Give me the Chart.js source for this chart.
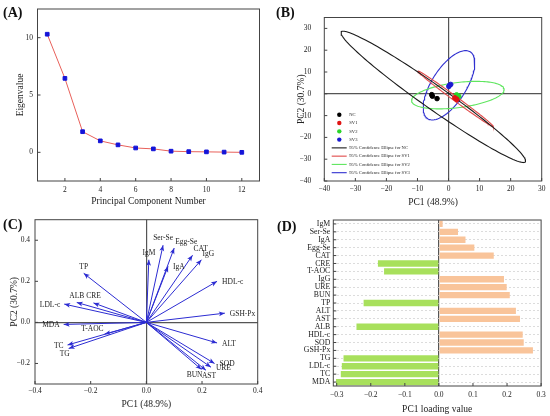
<!DOCTYPE html>
<html>
<head>
<meta charset="utf-8">
<script src="https://cdn.jsdelivr.net/npm/chart.js@4.4.1/dist/chart.umd.min.js"></script>
<style>
  body { margin: 0; background: #fff; width: 550px; height: 416px; position: relative; overflow: hidden; }
  .cell { position: absolute; width: 275px; height: 208px; }
  .tag { position: absolute; font-family: "Liberation Serif", serif; font-weight: bold; font-size: 14px; line-height: 14px; color: #111; }
</style>
</head>
<body>
<div class="cell" style="left:0;top:0"><canvas id="chartA" width="275" height="208"></canvas></div>
<div class="cell" style="left:275px;top:0"><canvas id="chartB" width="275" height="208"></canvas></div>
<div class="cell" style="left:0;top:208px"><canvas id="chartC" width="275" height="208"></canvas></div>
<div class="cell" style="left:275px;top:208px"><canvas id="chartD" width="275" height="208"></canvas></div>
<div class="tag" style="left:3px;top:6px">(A)</div>
<div class="tag" style="left:276px;top:6px">(B)</div>
<div class="tag" style="left:3px;top:218px">(C)</div>
<div class="tag" style="left:277px;top:220px">(D)</div>
<script>
// (A) scree plot
const componentNo = [1, 2, 3, 4, 5, 6, 7, 8, 9, 10, 11, 12];
const eigenValues = [10.3, 6.45, 1.8, 1.0, 0.65, 0.38, 0.3, 0.1, 0.06, 0.04, 0.02, 0.0];
const screeXTicks = [2, 4, 6, 8, 10, 12];
const screeYTicks = [0, 5, 10];

// (B) PCA scores, 3 samples per group
const groups = ["NC", "SV1", "SV2", "SV3"];
const scoreX = [[-5.4, -5.2, -3.7], [2.0, 2.4, 2.7], [2.6, 3.0, 3.3], [0.1, 0.3, 0.7]];
const scoreY = [[-0.4, -1.1, -2.2], [-1.8, -2.3, -2.6], [-0.5, -0.9, -1.2], [3.4, 3.9, 4.3]];
// 95% confidence ellipses: centre and two conjugate half axes
const ellCx = [-4.9, 2.25, 3.0, 0.15];
const ellCy = [-1.4, -2.3, -0.6, 3.9];
const ellAx = [-29, -12.15, 14.9, 5.35];
const ellAy = [30.1, 12.8, 2.5, 15.9];
const ellBx = [6.5, 1.2, 0, 6.35];
const ellBy = [0, 0, 5.8, 0];
const scoreTicks = [-40, -30, -20, -10, 0, 10, 20, 30];

// (C) loading plot
const loadNames = ["IgM", "Ser-Se", "Egg-Se", "IgA", "CAT", "IgG", "HDL-c", "GSH-Px", "ALT", "SOD", "URE",
  "AST", "BUN", "TP", "LDL-c", "ALB", "CRE", "MDA", "T-AOC", "TC", "TG"];
const loadPC1 = [0.009, 0.06, 0.1, 0.078, 0.166, 0.198, 0.254, 0.282, 0.254, 0.245, 0.232,
  0.214, 0.198, -0.225, -0.295, -0.25, -0.19, -0.297, -0.15, -0.283, -0.279];
const loadPC2 = [0.305, 0.376, 0.362, 0.273, 0.327, 0.305, 0.2, 0.045, -0.1, -0.2, -0.218,
  -0.233, -0.229, 0.239, 0.089, 0.097, 0.095, -0.01, -0.057, -0.11, -0.127];
const loadSide = ["top", "top", "tr", "right", "tr", "tr", "right", "right", "right", "right", "right",
  "bottom", "bl", "top", "left", "top", "top", "left", "tl", "left", "bl"];
const loadXTicks = [-0.4, -0.2, 0.0, 0.2, 0.4];
const loadYTicks = [-0.2, 0.0, 0.2, 0.4];

// (D) PC1 loadings
const barNames = ["IgM", "Ser-Se", "IgA", "Egg-Se", "CAT", "CRE", "T-AOC", "IgG", "URE", "BUN", "TP",
  "ALT", "AST", "ALB", "HDL-c", "SOD", "GSH-Px", "TG", "LDL-c", "TC", "MDA"];
const barPC1 = [0.011, 0.056, 0.078, 0.104, 0.161, -0.179, -0.161, 0.191, 0.199, 0.208, -0.221,
  0.226, 0.238, -0.242, 0.246, 0.249, 0.276, -0.28, -0.285, -0.288, -0.302];
const barTicks = [-0.3, -0.2, -0.1, 0.0, 0.1, 0.2, 0.3];

Chart.defaults.font.family = "'Liberation Serif', 'Times New Roman', serif";
Chart.defaults.color = "#222";
Chart.defaults.animation = false;
Chart.defaults.plugins.legend.display = false;
Chart.defaults.plugins.tooltip.enabled = false;

const H = 208;
const fitTo = (px) => (scale) => { if (scale.isHorizontal()) scale.height = px; else scale.width = px; };
const useTicks = (vals) => (scale) => { scale.ticks = vals.map((v) => ({ value: v })); };
const minus = (digits) => (v) => (digits == null ? String(v) : Number(v).toFixed(digits)).replace("-", "\u2212");
const zeroLine = (ctx) => (ctx.tick && ctx.tick.value === 0 ? "#555" : "rgba(0,0,0,0)");

// box round the plot and small inward tick marks
const framePlugin = {
  id: "frame",
  afterDatasetsDraw(chart) {
    const { ctx, chartArea: a } = chart;
    ctx.save();
    ctx.strokeStyle = "#444";
    ctx.lineWidth = 1;
    ctx.strokeRect(a.left, a.top, a.right - a.left, a.bottom - a.top);
    const x = chart.scales.x, y = chart.scales.y;
    ctx.beginPath();
    x.ticks.forEach((t, i) => { const p = x.getPixelForTick(i); ctx.moveTo(p, a.bottom); ctx.lineTo(p, a.bottom - 3); });
    y.ticks.forEach((t, i) => { const p = y.getPixelForTick(i); ctx.moveTo(a.left, p); ctx.lineTo(a.left + 3, p); });
    ctx.stroke();
    ctx.restore();
  }
};

// (A)
new Chart("chartA", {
  type: "scatter",
  data: {
    datasets: [{
      data: componentNo.map((c, i) => ({ x: c, y: eigenValues[i] })),
      showLine: true,
      borderColor: "#e8605a",
      borderWidth: 1,
      pointStyle: "rect",
      pointRadius: 2.6,
      pointBackgroundColor: "#1414d8",
      pointBorderColor: "#1414d8"
    }]
  },
  options: {
    responsive: false,
    layout: { padding: { left: 0, top: 4, right: 275 - 259.5, bottom: 0 } },
    scales: {
      x: {
        type: "linear", min: 0.45, max: 13,
        afterFit: fitTo(H - 181), afterBuildTicks: useTicks(screeXTicks),
        grid: { display: false, drawTicks: false }, border: { display: false },
        ticks: { padding: 4.5, font: { size: 7.5 } },
        title: { display: true, text: "Principal Component Number", font: { size: 9.5 }, padding: { top: 0, bottom: 0.6 } }
      },
      y: {
        min: -2.5, max: 12.5,
        afterFit: fitTo(37.5), afterBuildTicks: useTicks(screeYTicks),
        grid: { display: false, drawTicks: false }, border: { display: false },
        ticks: { padding: 4.5, font: { size: 7.5 } },
        title: { display: true, text: "Eigenvalue", font: { size: 9.5 }, padding: { top: 14.6, bottom: 0 } }
      }
    }
  },
  plugins: [framePlugin]
});

// (B)
const pointColors = ["#000000", "#e01414", "#2bd62b", "#1a1ad0"];
const ellipseColors = ["#1a1a1a", "#e04a4a", "#5fe65f", "#3030d0"];
function ellipsePoints(i) {
  const pts = [];
  for (let k = 0; k <= 144; k++) {
    const t = (k / 144) * 2 * Math.PI;
    pts.push({
      x: ellCx[i] + ellAx[i] * Math.cos(t) + ellBx[i] * Math.sin(t),
      y: ellCy[i] + ellAy[i] * Math.cos(t) + ellBy[i] * Math.sin(t)
    });
  }
  return pts;
}
const scoreSets = groups.map((g, i) => ({
  label: g,
  data: scoreX[i].map((v, j) => ({ x: v, y: scoreY[i][j] })),
  pointRadius: 2.3,
  pointBackgroundColor: pointColors[i],
  pointBorderColor: pointColors[i],
  order: 0
}));
const ellipseSets = groups.map((g, i) => ({
  label: "95% Confidence Ellipse for " + g,
  data: ellipsePoints(i),
  showLine: true,
  pointRadius: 0,
  borderColor: ellipseColors[i],
  borderWidth: 1.1,
  order: 1
}));

const insideLegend = {
  id: "insideLegend",
  afterDatasetsDraw(chart) {
    const { ctx } = chart;
    const items = scoreSets.concat(ellipseSets);
    ctx.save();
    ctx.font = "4.6px 'Liberation Serif', serif";
    ctx.textBaseline = "middle";
    items.forEach((ds, i) => {
      const y = 114.8 + i * 8.27;
      if (ds.showLine) {
        ctx.strokeStyle = ds.borderColor;
        ctx.lineWidth = 1.1;
        ctx.beginPath(); ctx.moveTo(56.7, y); ctx.lineTo(71.7, y); ctx.stroke();
      } else {
        ctx.fillStyle = ds.pointBackgroundColor;
        ctx.beginPath(); ctx.arc(64.3, y, 2.2, 0, 2 * Math.PI); ctx.fill();
      }
      ctx.fillStyle = "#222";
      ctx.fillText(ds.label, 74.3, y);
    });
    ctx.restore();
  }
};

new Chart("chartB", {
  type: "scatter",
  data: { datasets: scoreSets.concat(ellipseSets) },
  options: {
    responsive: false,
    layout: { padding: { left: 0, top: 4, right: 275 - 266.7, bottom: 0 } },
    scales: {
      x: {
        min: -40, max: 30,
        afterFit: fitTo(H - 181), afterBuildTicks: useTicks(scoreTicks),
        grid: { drawTicks: false, color: zeroLine, lineWidth: 1.2 }, border: { display: false },
        ticks: { padding: 3.5, font: { size: 7.5 }, callback: minus(null) },
        title: { display: true, text: "PC1 (48.9%)", font: { size: 9.5 }, padding: { top: 0, bottom: 0.3 } }
      },
      y: {
        min: -40, max: 35,
        afterFit: fitTo(49.3), afterBuildTicks: useTicks(scoreTicks),
        grid: { drawTicks: false, color: zeroLine, lineWidth: 1.2 }, border: { display: false },
        ticks: { padding: 13, font: { size: 7.5 }, callback: minus(null) },
        title: { display: true, text: "PC2 (30.7%)", font: { size: 9.5 }, padding: { top: 21, bottom: 0 } }
      }
    }
  },
  plugins: [framePlugin, insideLegend]
});

// (C)
const arrowBlue = "#2c2cd2";
const arrowPlugin = {
  id: "arrowTips",
  afterDatasetsDraw(chart) {
    const { ctx } = chart;
    ctx.save();
    ctx.fillStyle = arrowBlue;
    chart.data.datasets.forEach((ds, i) => {
      const pts = chart.getDatasetMeta(i).data;
      const p0 = pts[0], p1 = pts[1];
      const ang = Math.atan2(p1.y - p0.y, p1.x - p0.x);
      ctx.save();
      ctx.translate(p1.x, p1.y);
      ctx.rotate(ang);
      ctx.beginPath();
      ctx.moveTo(0, 0); ctx.lineTo(-6, -2.4); ctx.lineTo(-4.5, 0); ctx.lineTo(-6, 2.4);
      ctx.closePath(); ctx.fill();
      ctx.restore();
    });
    ctx.font = "7.5px 'Liberation Serif', serif";
    ctx.fillStyle = "#222";
    chart.data.datasets.forEach((ds, i) => {
      const p = chart.getDatasetMeta(i).data[1];
      const side = loadSide[i];
      let x = p.x, y = p.y;
      if (side === "top") { ctx.textAlign = "center"; ctx.textBaseline = "bottom"; y -= 3; }
      else if (side === "bottom") { ctx.textAlign = "left"; ctx.textBaseline = "top"; x -= 4; y += 2; }
      else if (side === "right") { ctx.textAlign = "left"; ctx.textBaseline = "middle"; x += 5; y += 1; }
      else if (side === "left") { ctx.textAlign = "right"; ctx.textBaseline = "middle"; x -= 4; y += 1; }
      else if (side === "tr") { ctx.textAlign = "left"; ctx.textBaseline = "bottom"; x += 1; y -= 2; }
      else if (side === "tl") { ctx.textAlign = "right"; ctx.textBaseline = "bottom"; x -= 1; y -= 1; }
      else if (side === "bl") { ctx.textAlign = "right"; ctx.textBaseline = "top"; x += 1; y += 2; }
      ctx.fillText(loadNames[i], x, y);
    });
    ctx.restore();
  }
};

new Chart("chartC", {
  type: "scatter",
  data: {
    datasets: loadNames.map((n, i) => ({
      label: n,
      data: [{ x: 0, y: 0 }, { x: loadPC1[i], y: loadPC2[i] }],
      showLine: true,
      pointRadius: 0,
      borderColor: arrowBlue,
      borderWidth: 1
    }))
  },
  options: {
    responsive: false,
    layout: { padding: { left: 0, top: 11.7, right: 275 - 257.7, bottom: 0 } },
    scales: {
      x: {
        min: -0.4, max: 0.4,
        afterFit: fitTo(H - 176), afterBuildTicks: useTicks(loadXTicks),
        grid: { drawTicks: false, color: zeroLine, lineWidth: 1.2 }, border: { display: false },
        ticks: { padding: 2.8, font: { size: 7.5 }, callback: minus(1) },
        title: { display: true, text: "PC1 (48.9%)", font: { size: 9.5 }, padding: { top: 0, bottom: 5.6 } }
      },
      y: {
        min: -0.3, max: 0.5,
        afterFit: fitTo(35), afterBuildTicks: useTicks(loadYTicks),
        grid: { drawTicks: false, color: zeroLine, lineWidth: 1.2 }, border: { display: false },
        ticks: { padding: 5, font: { size: 7.5 }, callback: minus(1) },
        title: { display: true, text: "PC2 (30.7%)", font: { size: 9.5 }, padding: { top: 8.3, bottom: 0 } }
      }
    }
  },
  plugins: [framePlugin, arrowPlugin]
});

// (D)
new Chart("chartD", {
  type: "bar",
  data: {
    labels: barNames,
    datasets: [{
      data: barPC1,
      backgroundColor: barPC1.map((v) => (v >= 0 ? "#f9c49a" : "#a8e05c")),
      barPercentage: 0.8,
      categoryPercentage: 1
    }]
  },
  options: {
    responsive: false,
    indexAxis: "y",
    layout: { padding: { left: 0, top: 12, right: 275 - 267.7, bottom: 0 } },
    scales: {
      x: {
        min: -0.31, max: 0.3,
        afterFit: fitTo(H - 178), afterBuildTicks: useTicks(barTicks),
        grid: { drawTicks: false, color: zeroLine, lineWidth: 1.2 }, border: { display: false },
        ticks: { padding: 4.2, font: { size: 7.5 }, callback: minus(1) },
        title: { display: true, text: "PC1 loading value", font: { size: 9.5 }, padding: { top: 0, bottom: 1.3 } }
      },
      y: {
        afterFit: fitTo(58.3),
        grid: { drawTicks: false, offset: false, color: "#d4d4d4", lineWidth: 0.8 },
        border: { display: false, dash: [2, 2] },
        ticks: { padding: 3, font: { size: 7.8 }, autoSkip: false }
      }
    }
  },
  plugins: [framePlugin]
});
</script>
</body>
</html>
